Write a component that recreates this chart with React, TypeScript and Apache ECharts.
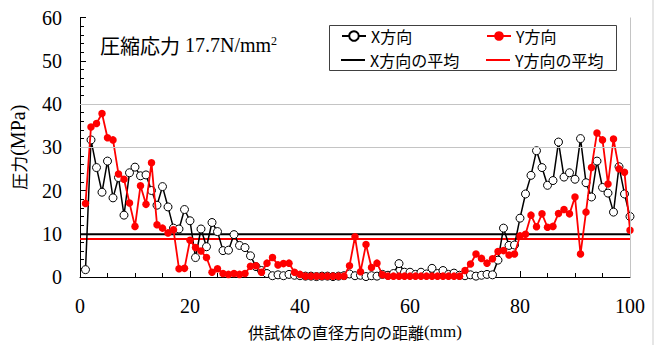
import React, { useEffect, useRef } from "react";
import * as echarts from "echarts";

// Stress measured at 1 mm steps across the specimen diameter (mm 1..100)
const xDirection = [
  1.7, 31.7, 25.3, 19.6, 26.8, 18.3, 23.0, 14.3, 24.1, 25.4,
  23.4, 23.6, 20.0, 16.6, 20.9, 16.2, 11.3, 11.1, 15.6, 13.0,
  4.5, 11.1, 7.0, 12.6, 10.5, 6.1, 6.2, 9.8, 7.3, 6.8,
  4.9, 2.4, 1.5, 0.8, 0.3, 0.5, 0.3, 0.6, 0.4, 0.3,
  0.2, 0.2, 0.1, 0.2, 0.2, 0.1, 0.2, 0.3, 0.7, 0.3,
  0.4, 0.1, 0.3, 0.2, 0.6, 0.4, 0.8, 3.1, 1.1, 1.1,
  0.6, 1.1, 0.7, 2.0, 0.8, 1.5, 0.6, 0.9, 0.4, 0.3,
  0.5, 0.2, 0.4, 0.6, 0.5, 3.9, 11.3, 7.3, 7.4, 13.6,
  19.2, 23.5, 29.2, 25.3, 21.2, 22.3, 31.2, 23.1, 24.1, 22.6,
  32.0, 21.8, 18.5, 26.8, 20.7, 19.4, 15.0, 25.5, 19.2, 14.0,
];

const yDirection = [
  17.0, 34.7, 35.5, 37.8, 32.2, 31.7, 23.8, 22.6, 17.1, 11.7,
  21.1, 16.8, 26.4, 12.1, 11.3, 10.2, 10.9, 1.9, 2.0, 8.5,
  6.8, 6.0, 4.5, 1.1, 1.9, 0.8, 0.6, 0.8, 0.6, 0.8,
  2.5, 2.6, 1.1, 3.2, 4.5, 2.8, 3.1, 3.2, 1.1, 0.6,
  0.2, 0.2, 0.2, 0.2, 0.2, 0.2, 0.2, 0.2, 2.6, 9.3,
  1.2, 7.5, 2.2, 3.2, 0.5, 0.2, 0.2, 0.2, 0.2, 0.2,
  0.2, 0.2, 0.2, 0.2, 0.2, 0.2, 0.2, 0.2, 0.2, 1.5,
  3.0, 5.3, 4.3, 3.2, 4.2, 5.9, 6.1, 5.1, 5.3, 9.5,
  9.9, 14.3, 11.6, 14.6, 11.5, 11.7, 14.7, 15.6, 14.6, 18.5,
  5.3, 15.0, 25.3, 33.3, 31.7, 21.5, 31.9, 25.0, 24.2, 10.8,
];

const xAverage = 9.9;
const yAverage = 8.8;
const gridLevels = [30, 40];
const distanceRange = [0, 100];

const serif = "'Liberation Serif', 'Times New Roman', serif";
const gothic = "'Noto Sans CJK JP', 'Noto Sans', sans-serif";

export default function App() {
  const ref = useRef<HTMLDivElement>(null);

  useEffect(() => {
    const chart = echarts.init(ref.current!, null, { renderer: "svg" });
    const toPoints = (vals: number[]) => vals.map((v, i) => [i + 1, v]);

    const legendBase = {
      orient: "horizontal",
      itemWidth: 24,
      itemHeight: 12,
      itemGap: 0,
      padding: 0,
      selectedMode: false,
      textStyle: { fontFamily: gothic, fontSize: 16, color: "#000", lineHeight: 16 },
    };
    const lineLegend = { ...legendBase, itemHeight: 2 };

    chart.setOption({
      animation: false,
      backgroundColor: "#fff",
      grid: { left: 80, right: 28, top: 17.5, bottom: 63.5 },
      xAxis: {
        type: "value",
        min: distanceRange[0],
        max: distanceRange[1],
        interval: 20,
        name: "{a|供試体の直径方向の距離}{b|(mm)}",
        nameLocation: "middle",
        nameGap: 46,
        nameTextStyle: {
          rich: {
            a: { fontFamily: gothic, fontSize: 16, color: "#000" },
            b: { fontFamily: serif, fontSize: 17, color: "#000" },
          },
        },
        axisLine: { onZero: false, lineStyle: { color: "#000", width: 1 } },
        axisTick: { inside: true, length: 6, lineStyle: { color: "#000" } },
        minorTick: { show: true, splitNumber: 4, length: 4, lineStyle: { color: "#000" } },
        axisLabel: { fontFamily: serif, fontSize: 20, color: "#000", margin: 19 },
        splitLine: { show: false },
      },
      yAxis: {
        type: "value",
        min: 0,
        max: 60,
        interval: 10,
        name: "{a|圧力}{b|(MPa)}",
        nameLocation: "middle",
        nameRotate: 90,
        nameGap: 52,
        nameTextStyle: {
          rich: {
            a: { fontFamily: gothic, fontSize: 17, color: "#000" },
            b: { fontFamily: serif, fontSize: 20, color: "#000" },
          },
        },
        axisLine: { show: true, onZero: false, lineStyle: { color: "#000", width: 1 } },
        axisTick: { show: true, inside: true, length: 6, lineStyle: { color: "#000" } },
        minorTick: { show: true, splitNumber: 5, length: 4, lineStyle: { color: "#000" } },
        axisLabel: { fontFamily: serif, fontSize: 20, color: "#000", margin: 18 },
        splitLine: { show: false },
      },
      legend: [
        { ...legendBase, data: ["X方向"], left: 341, top: 28 },
        { ...legendBase, data: ["Y方向"], left: 486, top: 28 },
        { ...lineLegend, data: [{ name: "X方向の平均", icon: "rect" }], left: 341, top: 52 },
        { ...lineLegend, data: [{ name: "Y方向の平均", icon: "rect" }], left: 486, top: 52 },
      ],
      graphic: [
        {
          type: "rect",
          z: 3,
          shape: { x: 329.5, y: 25.5, width: 287, height: 45 },
          style: { fill: "#fff", stroke: "#404040", lineWidth: 1 },
        },
        {
          type: "text",
          z: 5,
          x: 100,
          y: 35,
          style: {
            text: "{a|圧縮応力}{b|17.7N/mm}{c|2}",
            rich: {
              a: { fontFamily: gothic, fontSize: 20, fill: "#000" },
              b: { fontFamily: serif, fontSize: 20, fill: "#000", padding: [0, 0, 0, 5] },
              c: { fontFamily: serif, fontSize: 12, fill: "#000", verticalAlign: "top" },
            },
          },
        },
        {
          type: "rect",
          shape: { x: 652, y: 0, width: 2, height: 345 },
          style: { fill: "#e6e6e6" },
        },
      ],
      series: [
        {
          type: "line",
          data: [],
          silent: true,
          z: 1,
          markLine: {
            silent: true,
            symbol: "none",
            label: { show: false },
            lineStyle: { color: "#c4c4c4", type: "solid", width: 1 },
            data: [...gridLevels.map((v) => ({ yAxis: v })), { xAxis: distanceRange[1] }],
          },
        },
        {
          type: "line",
          name: "X方向の平均",
          data: [[distanceRange[0], xAverage], [distanceRange[1], xAverage]],
          symbol: "none",
          lineStyle: { color: "#000", width: 2 },
          itemStyle: { color: "#000" },
          z: 2,
        },
        {
          type: "line",
          name: "Y方向の平均",
          data: [[distanceRange[0], yAverage], [distanceRange[1], yAverage]],
          symbol: "none",
          lineStyle: { color: "#ff0000", width: 2 },
          itemStyle: { color: "#ff0000" },
          z: 2,
        },
        {
          type: "line",
          name: "X方向",
          data: toPoints(xDirection),
          symbol: "circle",
          symbolSize: 8,
          showAllSymbol: true,
          lineStyle: { color: "#000", width: 1.5 },
          itemStyle: { color: "#fff", borderColor: "#000", borderWidth: 1 },
          z: 3,
        },
        {
          type: "line",
          name: "Y方向",
          data: toPoints(yDirection),
          symbol: "circle",
          symbolSize: 7.5,
          showAllSymbol: true,
          lineStyle: { color: "#ff0000", width: 1.8 },
          itemStyle: { color: "#ff0000" },
          z: 4,
        },
      ],
    });

    return () => chart.dispose();
  }, []);

  return (
    <div
      ref={ref}
      style={{ position: "fixed", left: 0, top: 0, width: 658, height: 345, background: "#fff" }}
    />
  );
}
